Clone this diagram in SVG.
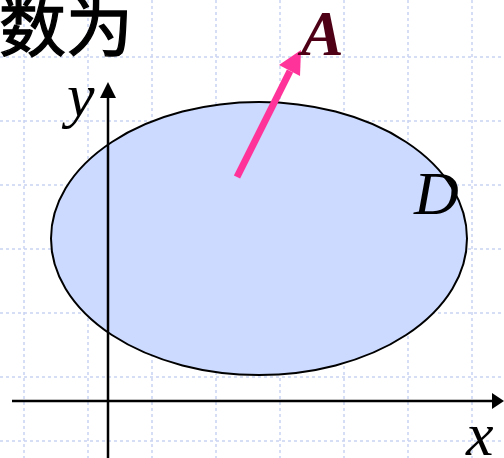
<svg xmlns="http://www.w3.org/2000/svg" width="504" height="458" viewBox="0 0 504 458">
<style>
.grid{stroke:#c9d3f2;stroke-width:1.5;stroke-dasharray:3 3;fill:none}
.axis{stroke:#000;stroke-width:2.5;fill:none}
.lbl{font-family:"Liberation Serif",serif;font-style:italic;fill:#000}
</style>
<rect width="504" height="458" fill="#fff"/>
<g id="grid">
<path class="grid" d="M24 0V458M88 0V458M152 0V458M216 0V458M280 0V458M344 0V458M408 0V458M472 0V458M0 57H504M0 121H504M0 185H504M0 249H504M0 313H504M0 377H504M0 441H504"/>
</g>
<g id="region-D">
<ellipse cx="259" cy="238.5" rx="208" ry="136.5" fill="#ccdaff" stroke="#000" stroke-width="2"/>
<text class="lbl" x="414" y="214" font-size="62">D</text>
</g>
<g id="connectors">
<line class="axis" x1="12" y1="401" x2="494" y2="401"/>
<polygon points="504,401 492,393 492,409" fill="#000"/>
<line class="axis" x1="108" y1="458" x2="108" y2="95"/>
<polygon points="108,82 100,98 116,98" fill="#000"/>
<line x1="237" y1="177" x2="290" y2="71" stroke="#ff3399" stroke-width="7"/>
<polygon points="301,50 279,65 300,76" fill="#ff3399"/>
</g>
<g id="labels">
<text class="lbl" x="67" y="116" font-size="62">y</text>
<text class="lbl" x="466" y="455" font-size="62">x</text>
<text x="301" y="55" font-family="Liberation Serif,serif" font-style="italic" font-weight="bold" font-size="64" fill="#4d0016">A</text>
<text x="-1" y="51" font-family="'Noto Sans CJK SC',sans-serif" font-size="67" fill="#000" stroke="#000" stroke-width="1.3">数为</text>
</g>
</svg>
